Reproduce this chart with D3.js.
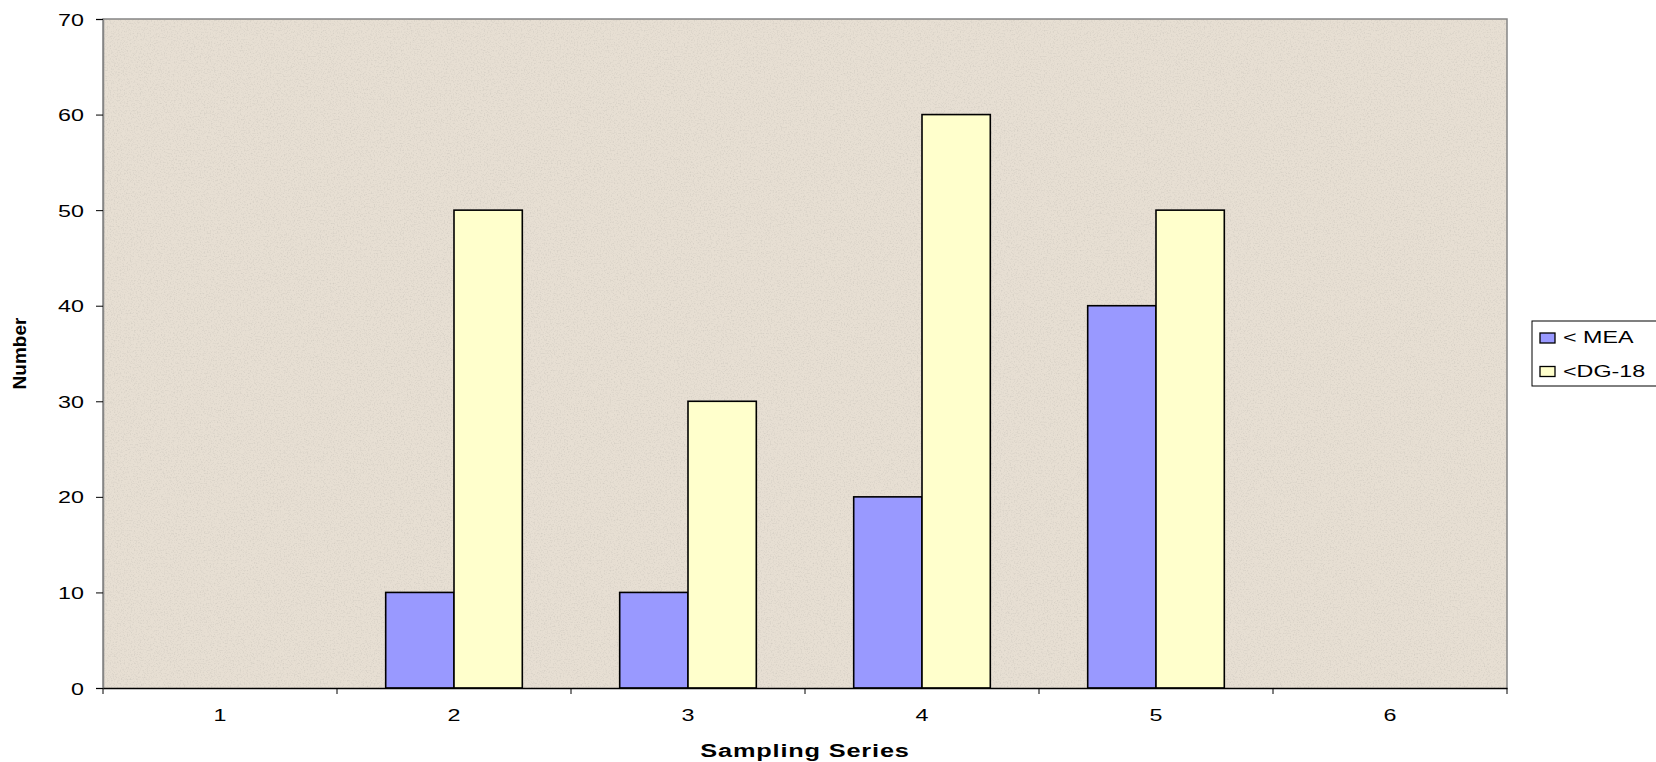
<!DOCTYPE html>
<html>
<head>
    <meta charset="utf-8">
    <script src="https://cdnjs.cloudflare.com/ajax/libs/d3/7.8.5/d3.min.js"></script>
    <style>
        body { margin: 0; background-color: #fff; }
        svg { display: block; font-family: 'Liberation Sans', Arial, sans-serif; }
    </style>
</head>
<body>
    <svg width="1656" height="762"></svg>
    <script>
        // data
        var categories = ["1", "2", "3", "4", "5", "6"];
        var seriesNames = ["< MEA", "<DG-18"];
        var meaValues = [null, 10, 10, 20, 40, null];
        var dgValues = [null, 50, 30, 60, 50, null];
        var yTicks = [0, 10, 20, 30, 40, 50, 60, 70];
        var colors = ["#9999ff", "#ffffcc"];

        var stretch = 1.37; // the original text is rendered wide

        var svg = d3.select("svg"),
            margin = {top: 19, right: 149, bottom: 74, left: 103},
            width = +svg.attr("width") - margin.left - margin.right,
            height = +svg.attr("height") - margin.top - margin.bottom,
            g = svg.append("g").attr("transform", "translate(" + margin.left + "," + margin.top + ")");

        var x = d3.scaleBand().domain(categories).range([0, width]).padding(0);
        var xs = d3.scaleBand().domain(seriesNames).range([0, x.bandwidth()]).paddingInner(0).paddingOuter(0.713);
        var y = d3.scaleLinear().domain([0, 70]).range([height, 0]);

        // textured plot background
        var defs = svg.append("defs");
        var f = defs.append("filter").attr("id", "grain").attr("x", 0).attr("y", 0).attr("width", 1).attr("height", 1);
        f.append("feTurbulence").attr("type", "fractalNoise").attr("baseFrequency", 0.7).attr("numOctaves", 2).attr("seed", 3).attr("result", "noise");
        f.append("feColorMatrix").attr("in", "noise").attr("type", "matrix")
            .attr("values", "0 0 0 0 0.62  0 0 0 0 0.58  0 0 0 0 0.52  0 0 0 -1.8 0.95")
            .attr("result", "spots");
        f.append("feComposite").attr("in", "spots").attr("in2", "SourceGraphic").attr("operator", "over");

        g.append("rect")
            .attr("width", width).attr("height", height)
            .attr("fill", "#e7dfd3")
            .attr("filter", "url(#grain)");

        // plot frame (gray) on left, top, right
        g.append("path")
            .attr("d", "M0," + height + "V0H" + width + "V" + height)
            .attr("fill", "none").attr("stroke", "#858585").attr("stroke-width", 1.5);

        // bars
        var rows = categories.map(function(c, i) {
            return {cat: c, vals: [meaValues[i], dgValues[i]]};
        });
        var grp = g.selectAll(".grp").data(rows).enter().append("g")
            .attr("transform", function(d) { return "translate(" + x(d.cat) + ",0)"; });
        grp.selectAll("rect")
            .data(function(d) {
                return d.vals.map(function(v, j) { return {name: seriesNames[j], v: v, j: j}; })
                    .filter(function(e) { return e.v != null; });
            })
            .enter().append("rect")
            .attr("x", function(d) { return xs(d.name); })
            .attr("y", function(d) { return y(d.v); })
            .attr("width", xs.bandwidth())
            .attr("height", function(d) { return height - y(d.v); })
            .attr("fill", function(d) { return colors[d.j]; })
            .attr("stroke", "#000").attr("stroke-width", 1.6);

        // y axis
        var yAxis = g.append("g")
            .call(d3.axisLeft(y).tickValues(yTicks).tickSize(7).tickPadding(0));
        yAxis.select(".domain").attr("stroke", "#858585").attr("stroke-width", 1.5);
        yAxis.selectAll("text")
            .attr("font-size", 17).attr("fill", "#000")
            .attr("x", -19 / stretch).attr("dy", "0.36em")
            .attr("transform", "scale(" + stretch + ",1)");

        // x axis labels
        var xAxis = g.append("g").attr("transform", "translate(0," + height + ")")
            .call(d3.axisBottom(x).tickSize(0).tickPadding(0));
        xAxis.select(".domain").attr("stroke", "#000").attr("stroke-width", 1.5);
        xAxis.selectAll("text")
            .attr("font-size", 17).attr("fill", "#000")
            .attr("y", 21)
            .attr("transform", "scale(" + stretch + ",1)");

        // tick marks at category boundaries
        var edges = categories.map(function(c) { return x(c); }).concat([x.range()[1]]);
        xAxis.selectAll(".edge").data(edges).enter().append("line")
            .attr("x1", function(d) { return d; }).attr("x2", function(d) { return d; })
            .attr("y1", 0).attr("y2", 6)
            .attr("stroke", "#000");

        // axis titles
        svg.append("text")
            .attr("transform", "translate(" + (margin.left + width / 2) + ",757) scale(" + stretch + ",1)")
            .attr("text-anchor", "middle")
            .attr("font-size", 18.5).attr("font-weight", "bold")
            .attr("letter-spacing", 0.6)
            .text("Sampling Series");

        svg.append("text")
            .attr("transform", "translate(26," + (margin.top + height / 2) + ") rotate(-90)")
            .attr("text-anchor", "middle")
            .attr("font-size", 19).attr("font-weight", "bold")
            .text("Number");

        // legend
        var legend = svg.append("g").attr("transform", "translate(1532,321)");
        legend.append("rect")
            .attr("width", 140).attr("height", 65)
            .attr("fill", "#fff").attr("stroke", "#000").attr("stroke-width", 1);
        var items = legend.selectAll(".item").data(seriesNames).enter().append("g")
            .attr("transform", function(d, i) { return "translate(8," + (12 + i * 33.5) + ")"; });
        items.append("rect")
            .attr("width", 15).attr("height", 10)
            .attr("fill", function(d, i) { return colors[i]; })
            .attr("stroke", "#000").attr("stroke-width", 1.3);
        items.append("text")
            .attr("transform", "translate(23,10) scale(" + stretch + ",1)")
            .attr("font-size", 17)
            .text(function(d) { return d; });
    </script>
</body>
</html>
